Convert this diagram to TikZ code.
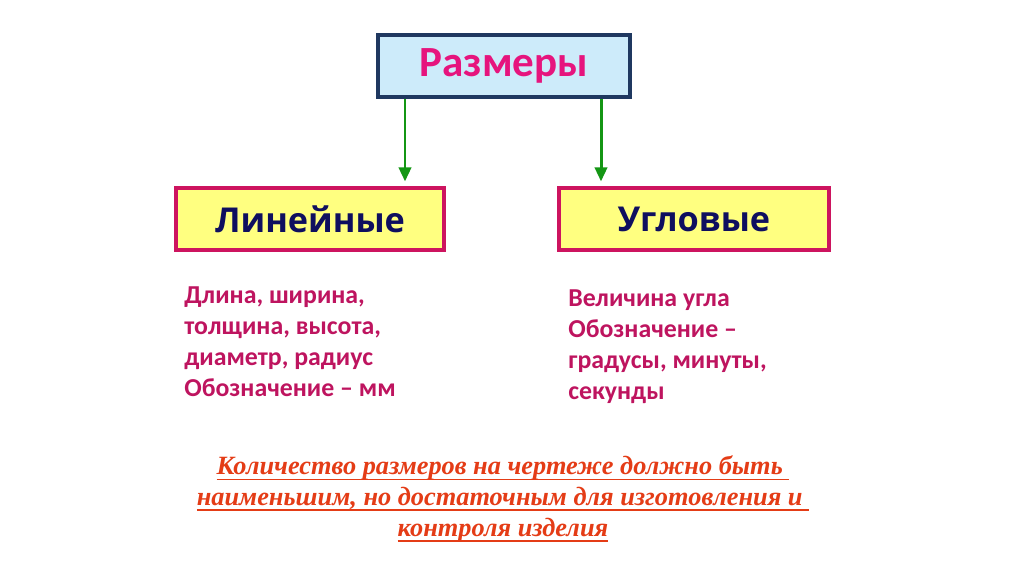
\documentclass[tikz,border=0pt]{standalone}
\usepackage{fontspec}
\setmainfont{Carlito}
\newfontfamily\kindfont{Open Sans}
\newfontfamily\notefont{Liberation Serif}
\definecolor{titlepink}{RGB}{230,20,125}
\definecolor{bodypink}{RGB}{190,20,95}
\definecolor{navyline}{RGB}{31,56,96}
\definecolor{skyfill}{RGB}{205,235,250}
\definecolor{lemonfill}{RGB}{255,255,128}
\definecolor{crimsonline}{RGB}{205,20,95}
\definecolor{inkblue}{RGB}{15,15,95}
\definecolor{arrowgreen}{RGB}{20,150,20}
\definecolor{notered}{RGB}{228,60,22}
\usetikzlibrary{arrows.meta,positioning}
\newcommand{\noteline}[1]{\setbox0\hbox{#1}\rlap{\rule[-3.2pt]{\wd0}{1pt}}\box0}

\begin{document}
\begin{tikzpicture}[x=0.02cm, y=-0.02cm,
      arr/.style={-{Triangle[length=8pt,width=7pt]}, line width=1.7pt, arrowgreen, shorten >=5*0.02cm},
      topbox/.style={draw=navyline, line width=1.8pt, fill=skyfill,
                     minimum width=252*0.02cm, minimum height=62*0.02cm,
                     font=\fontsize{24.5}{28}\selectfont\bfseries, text=titlepink},
      kindbox/.style={draw=crimsonline, line width=1.8pt, fill=lemonfill,
                      minimum height=62*0.02cm,
                      font=\kindfont\fontsize{19.5}{22}\selectfont\bfseries, text=inkblue},
      desc/.style={anchor=north west, align=left, inner sep=0pt, text=bodypink,
                   font=\fontsize{14.7}{17.7}\selectfont\bfseries},
      note/.style={align=center, inner sep=0pt, text=notered,
                   font=\notefont\fontsize{15}{17.6}\selectfont\bfseries\itshape}
    ]
    \useasboundingbox (0,0) rectangle (1024,574);
    \node[topbox] (sizes) at (504,66) {Размеры};
    \node[kindbox, minimum width=268*0.02cm] (linear) at (310,219) {Линейные};
    \node[kindbox, minimum width=270*0.02cm] (angular) at (694,219) {Угловые};
    \draw[arr] ([xshift=-99*0.02cm]sizes.south) -- ([xshift=-99*0.02cm]sizes.south |- linear.north);
    \draw[arr] ([xshift=97*0.02cm]sizes.south) -- ([xshift=97*0.02cm]sizes.south |- angular.north);
    \node[desc] (lintext) at (184,286) {Длина, ширина,\\
      толщина, высота,\\
      диаметр, радиус\\
      Обозначение -- мм};
    \node[desc] (angtext) at (568,289) {Величина угла\\
      Обозначение --\\
      градусы, минуты,\\
      секунды};
    \node[note] (rule) at (503,499) {%
      \noteline{Количество размеров на чертеже должно быть\ }\\
      \noteline{наименьшим, но достаточным для изготовления и\ }\\
      \noteline{контроля изделия}};
  \end{tikzpicture}
\end{document}
